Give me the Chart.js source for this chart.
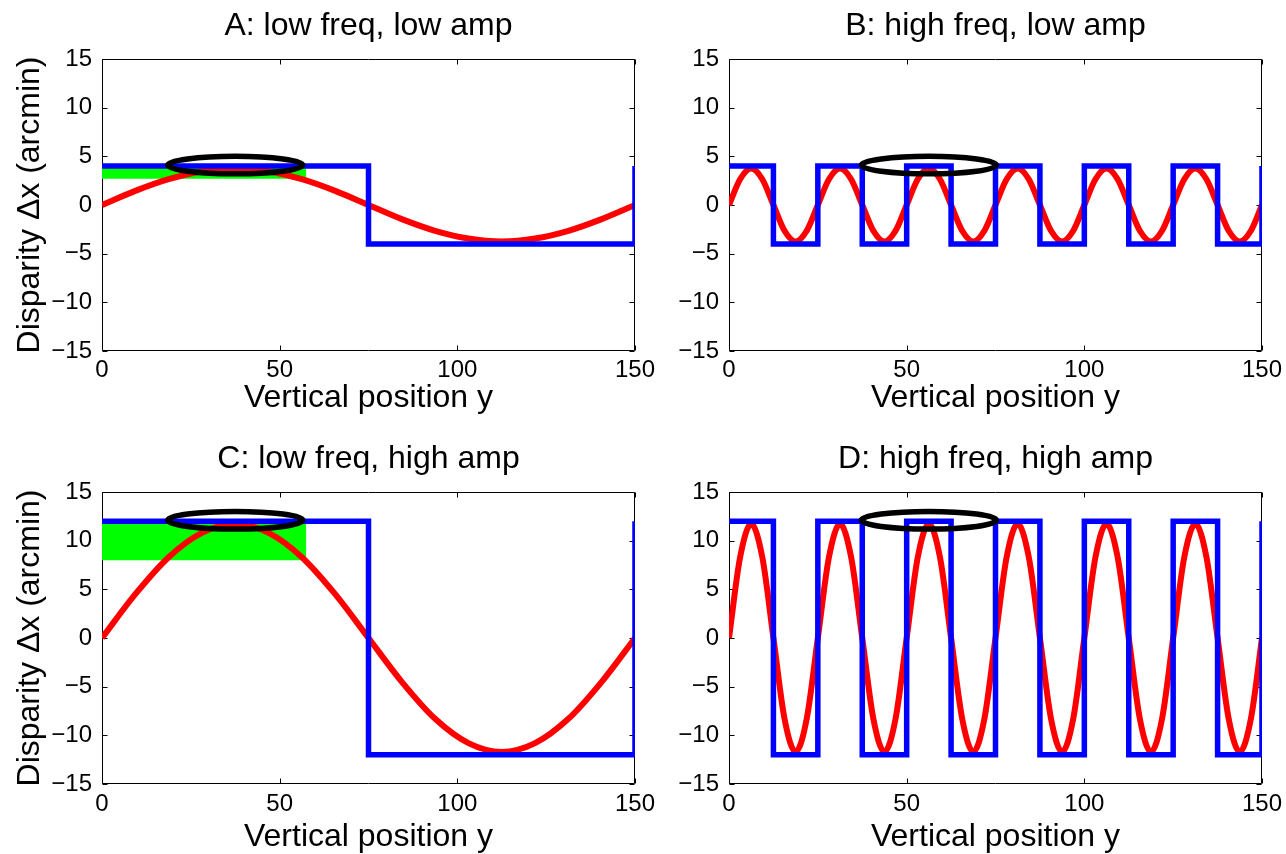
<!DOCTYPE html>
<html>
<head>
<meta charset="utf-8">
<script src="https://cdn.jsdelivr.net/npm/chart.js@4.4.1/dist/chart.umd.min.js"></script>
<style>
  html, body { margin: 0; padding: 0; background: #fff; }
  #fig { position: relative; width: 1286px; height: 854px; }
  #fig canvas { position: absolute; }
</style>
</head>
<body>
<div id="fig">
  <canvas id="panelA" width="660" height="427" style="left:0;top:0;width:660px;height:427px"></canvas>
  <canvas id="panelB" width="626" height="427" style="left:660px;top:0;width:626px;height:427px"></canvas>
  <canvas id="panelC" width="660" height="427" style="left:0;top:427px;width:660px;height:427px"></canvas>
  <canvas id="panelD" width="626" height="427" style="left:660px;top:427px;width:626px;height:427px"></canvas>
</div>
<script>
// Sampled disparity profiles (y position -> disparity in arcmin)
const lowFreqPos = [0, 9.375, 18.75, 28.125, 37.5, 46.875, 56.25, 65.625, 75,
  84.375, 93.75, 103.125, 112.5, 121.875, 131.25, 140.625, 150];
const lowFreqLowAmp = [0, 1.45, 2.65, 3.45, 3.75, 3.45, 2.65, 1.45, 0,
  -1.45, -2.65, -3.45, -3.75, -3.45, -2.65, -1.45, 0];
const lowFreqHighAmp = [0, 4.5, 8.3, 10.8, 11.7, 10.8, 8.3, 4.5, 0,
  -4.5, -8.3, -10.8, -11.7, -10.8, -8.3, -4.5, 0];

const highFreqPos = [0, 3.125, 6.25, 9.375, 12.5, 15.625, 18.75, 21.875,
  25, 28.125, 31.25, 34.375, 37.5, 40.625, 43.75, 46.875,
  50, 53.125, 56.25, 59.375, 62.5, 65.625, 68.75, 71.875,
  75, 78.125, 81.25, 84.375, 87.5, 90.625, 93.75, 96.875,
  100, 103.125, 106.25, 109.375, 112.5, 115.625, 118.75, 121.875,
  125, 128.125, 131.25, 134.375, 137.5, 140.625, 143.75, 146.875, 150];
const highFreqLowAmp = [0, 2.65, 3.75, 2.65, 0, -2.65, -3.75, -2.65,
  0, 2.65, 3.75, 2.65, 0, -2.65, -3.75, -2.65,
  0, 2.65, 3.75, 2.65, 0, -2.65, -3.75, -2.65,
  0, 2.65, 3.75, 2.65, 0, -2.65, -3.75, -2.65,
  0, 2.65, 3.75, 2.65, 0, -2.65, -3.75, -2.65,
  0, 2.65, 3.75, 2.65, 0, -2.65, -3.75, -2.65, 0];
const highFreqHighAmp = [0, 8.3, 11.7, 8.3, 0, -8.3, -11.7, -8.3,
  0, 8.3, 11.7, 8.3, 0, -8.3, -11.7, -8.3,
  0, 8.3, 11.7, 8.3, 0, -8.3, -11.7, -8.3,
  0, 8.3, 11.7, 8.3, 0, -8.3, -11.7, -8.3,
  0, 8.3, 11.7, 8.3, 0, -8.3, -11.7, -8.3,
  0, 8.3, 11.7, 8.3, 0, -8.3, -11.7, -8.3, 0];

// Square-wave step corners
const lowSquarePos = [0, 75, 150];
const lowSquareLowAmp = [4, -4, 4];
const lowSquareHighAmp = [12, -12, 12];
const highSquarePos = [0, 12.5, 25, 37.5, 50, 62.5, 75, 87.5, 100, 112.5, 125, 137.5, 150];
const highSquareLowAmp = [4, -4, 4, -4, 4, -4, 4, -4, 4, -4, 4, -4, 4];
const highSquareHighAmp = [12, -12, 12, -12, 12, -12, 12, -12, 12, -12, 12, -12, 12];

// Green band: y span, then [bottom, top] disparity
const bandSpan = [0, 57.5];
const bandLowAmp = [2.7, 4];
const bandHighAmp = [8, 12];

// Black ring: [centre, half-width] along y and [centre, half-height] in disparity
const ringLowFreq = [37.5, 19];
const ringHighFreq = [56.25, 19];
const ringLowAmp = [4.1, 0.9];
const ringHighAmp = [12.1, 0.9];

const xTicks = [0, 50, 100, 150];
const yTicks = [-15, -10, -5, 0, 5, 10, 15];

const titles = ['A: low freq, low amp', 'B: high freq, low amp', 'C: low freq, high amp', 'D: high freq, high amp'];
const xTitle = 'Vertical position y';
const yTitle = 'Disparity \u0394x (arcmin)';

const FONT = "'Liberation Sans', Helvetica, Arial, sans-serif";
const TICK = 5;

const pts = (xs, ys) => xs.map((v, i) => ({ x: v, y: ys[i] }));

// Box frame with inward ticks on all four sides, plus the black ring on top
const boxFrame = {
  id: 'boxFrame',
  beforeDatasetsDraw(chart) {
    const { ctx, chartArea: a, scales: { x, y } } = chart;
    const L = Math.round(a.left) + 0.5, R = Math.round(a.right) - 0.5;
    const T = Math.round(a.top) + 0.5, B = Math.round(a.bottom) - 0.5;
    ctx.save();
    ctx.strokeStyle = '#000';
    ctx.lineWidth = 1;
    ctx.beginPath();
    ctx.rect(L, T, R - L, B - T);
    x.ticks.forEach(t => {
      const px = Math.round(x.getPixelForValue(t.value)) + 0.5;
      ctx.moveTo(px, B); ctx.lineTo(px, B - TICK);
      ctx.moveTo(px, T); ctx.lineTo(px, T + TICK);
    });
    y.ticks.forEach(t => {
      const py = Math.round(y.getPixelForValue(t.value)) + 0.5;
      ctx.moveTo(L, py); ctx.lineTo(L + TICK, py);
      ctx.moveTo(R, py); ctx.lineTo(R - TICK, py);
    });
    ctx.stroke();
    ctx.restore();
  },
  afterDatasetsDraw(chart, args, opts) {
    const { ctx, scales: { x, y } } = chart;
    const [cxv, rxv] = opts.ringX;
    const [cyv, ryv] = opts.ringY;
    const cx = x.getPixelForValue(cxv);
    const cy = y.getPixelForValue(cyv);
    const rx = x.getPixelForValue(cxv + rxv) - cx;
    const ry = cy - y.getPixelForValue(cyv + ryv);
    ctx.save();
    ctx.strokeStyle = '#000';
    ctx.lineWidth = 5.5;
    ctx.beginPath();
    ctx.ellipse(cx, cy, rx, ry, 0, 0, Math.PI * 2);
    ctx.stroke();
    ctx.restore();
  }
};

function makePanel(id, p) {
  const datasets = [
    {
      data: pts(p.sqPos, p.sqVal),
      stepped: true,
      borderColor: '#0000ff',
      borderWidth: 5.5,
      borderJoinStyle: 'miter',
      pointRadius: 0,
      fill: false,
      clip: 0
    },
    {
      data: pts(p.sinePos, p.sineVal),
      borderColor: '#ff0000',
      borderWidth: 6,
      cubicInterpolationMode: 'monotone',
      pointRadius: 0,
      fill: false,
      clip: 0
    }
  ];
  if (p.band) {
    datasets.push({
      data: pts(bandSpan, [p.band[1], p.band[1]]),
      borderWidth: 0,
      borderColor: 'rgba(0,0,0,0)',
      backgroundColor: '#00ff00',
      pointRadius: 0,
      fill: { value: p.band[0] },
      clip: 0
    });
  }

  return new Chart(document.getElementById(id), {
    type: 'line',
    data: { datasets },
    plugins: [boxFrame],
    options: {
      responsive: false,
      animation: false,
      events: [],
      layout: { autoPadding: false, padding: { left: 0, top: 0, right: p.padRight, bottom: 0 } },
      plugins: {
        legend: { display: false },
        tooltip: { enabled: false },
        title: {
          display: true,
          text: p.title,
          fullSize: false,
          color: '#000',
          font: { family: FONT, size: 32, weight: 'normal', lineHeight: 1 },
          padding: { top: p.titleTop, bottom: p.titleBottom }
        },
        boxFrame: { ringX: p.ringX, ringY: p.ringY }
      },
      scales: {
        x: {
          type: 'linear',
          min: 0,
          max: 150,
          afterBuildTicks: s => { s.ticks = xTicks.map(v => ({ value: v })); },
          grid: { display: false, drawTicks: false, tickLength: 0 },
          border: { display: false },
          ticks: { color: '#000', padding: p.xTickPad, maxRotation: 0, font: { family: FONT, size: 24 } },
          title: {
            display: true,
            text: xTitle,
            color: '#000',
            font: { family: FONT, size: 32, lineHeight: 1 },
            padding: { top: 0, bottom: p.xTitleBottom }
          },
          afterFit: s => { s.height = p.xHeight; s.paddingLeft = 0; s.paddingRight = 0; }
        },
        y: {
          type: 'linear',
          min: -15,
          max: 15,
          afterBuildTicks: s => { s.ticks = yTicks.map(v => ({ value: v })); },
          grid: { display: false, drawTicks: false, tickLength: 0 },
          border: { display: false },
          ticks: {
            color: '#000',
            padding: 10,
            font: { family: FONT, size: 24 },
            callback: v => (v < 0 ? '\u2212' + Math.abs(v) : String(v))
          },
          title: {
            display: p.showYTitle,
            text: yTitle,
            color: '#000',
            font: { family: FONT, size: 32, lineHeight: 1 },
            padding: { top: 14, bottom: 0 }
          },
          afterFit: s => { s.width = p.yWidth; s.paddingTop = 0; s.paddingBottom = 0; }
        }
      }
    }
  });
}

const topRow = { xHeight: 76, titleTop: 10, titleBottom: 17, xTickPad: 5, xTitleBottom: 13 };
const bottomRow = { xHeight: 70, titleTop: 16, titleBottom: 17, xTickPad: 6, xTitleBottom: 1 };
const leftCol = { yWidth: 102, padRight: 25, showYTitle: true };
const rightCol = { yWidth: 69, padRight: 24, showYTitle: false };

makePanel('panelA', Object.assign({}, topRow, leftCol, {
  title: titles[0], sinePos: lowFreqPos, sineVal: lowFreqLowAmp,
  sqPos: lowSquarePos, sqVal: lowSquareLowAmp, band: bandLowAmp,
  ringX: ringLowFreq, ringY: ringLowAmp
}));
makePanel('panelB', Object.assign({}, topRow, rightCol, {
  title: titles[1], sinePos: highFreqPos, sineVal: highFreqLowAmp,
  sqPos: highSquarePos, sqVal: highSquareLowAmp, band: null,
  ringX: ringHighFreq, ringY: ringLowAmp
}));
makePanel('panelC', Object.assign({}, bottomRow, leftCol, {
  title: titles[2], sinePos: lowFreqPos, sineVal: lowFreqHighAmp,
  sqPos: lowSquarePos, sqVal: lowSquareHighAmp, band: bandHighAmp,
  ringX: ringLowFreq, ringY: ringHighAmp
}));
makePanel('panelD', Object.assign({}, bottomRow, rightCol, {
  title: titles[3], sinePos: highFreqPos, sineVal: highFreqHighAmp,
  sqPos: highSquarePos, sqVal: highSquareHighAmp, band: null,
  ringX: ringHighFreq, ringY: ringHighAmp
}));
</script>
</body>
</html>
